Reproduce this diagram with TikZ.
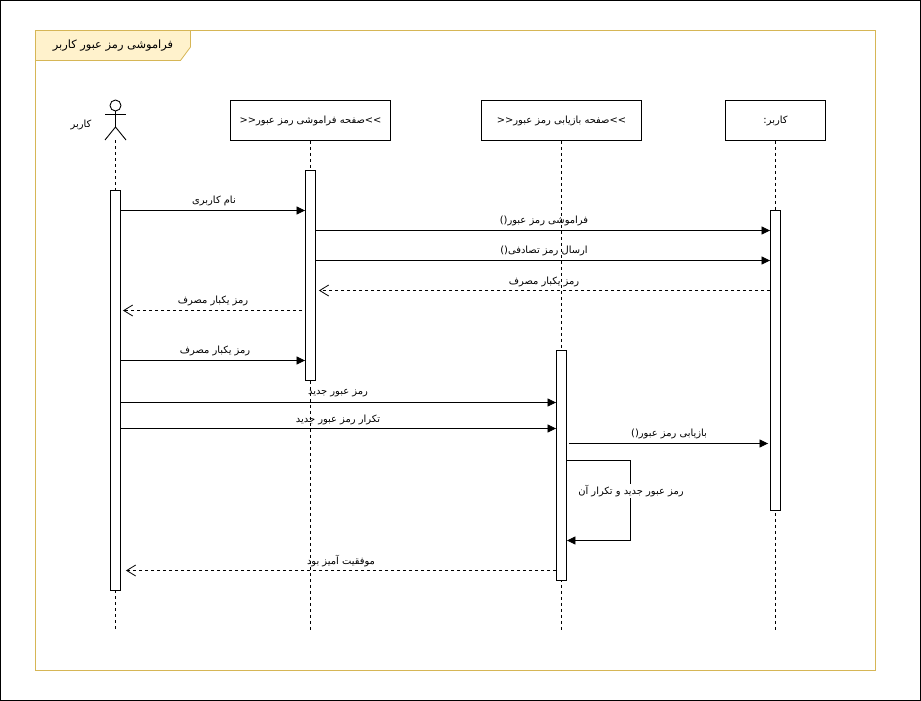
\documentclass[tikz,border=0pt]{standalone}
\usepackage{fontspec}
\setmainfont{DejaVu Sans}
\newfontfamily\arabicfont[Script=Arabic]{DejaVu Sans}
\TeXXeTstate=1
\usetikzlibrary{positioning, arrows.meta, calc}
\definecolor{framecol}{RGB}{214,182,86}
\definecolor{tabfill}{RGB}{255,242,204}
\newcommand{\fa}[1]{{\arabicfont\beginR #1\endR}}
\tikzset{
  headbox/.style={draw, line width=0.9pt, fill=white, minimum height=40pt, inner sep=0pt},
  actbar/.style={draw, line width=0.9pt, fill=white, minimum width=10pt, inner sep=0pt},
  lifeline/.style={line width=0.8pt, dash pattern=on 3pt off 3pt},
  syncmsg/.style={line width=0.8pt, -{Triangle[length=8.5pt,width=8pt]}},
  replymsg/.style={line width=0.8pt, dash pattern=on 3pt off 3pt, -{Straight Barb[length=9pt,width=11pt]}},
  msglabel/.style={font=\fontsize{9.9}{11}\selectfont, inner sep=0pt}
}
\begin{document}
\begin{tikzpicture}[x=1pt, y=-1pt, >=Stealth]
        \useasboundingbox (0,0) rectangle (921,701);
        % Outer border and frame
        \draw[line width=0.9pt] (0.5,0.5) rectangle (920.5,700.5);
        \draw[framecol, line width=0.8pt] (35.5,30.5) rectangle (875.5,670.5);
        \draw[framecol, line width=0.8pt, fill=tabfill] (35.5,30.5) -- (190.5,30.5) -- (190.5,47) -- (180.5,60.5) -- (35.5,60.5) -- cycle;
        \node[msglabel, font=\fontsize{11.4}{13}\selectfont] (frameTitle) at (113,45.5) {\fa{فراموشی رمز عبور کاربر}};

        % Heads
        \node[headbox, minimum width=160pt] (forgetHead) at (310.5,120.5) {};
        \node[msglabel] at (forgetHead) {\fa{\beginL>>\endL صفحه فراموشی رمز عبور\beginL<<\endL}};
        \node[headbox, minimum width=160pt] (recoverHead) at (561.5,120.5) {};
        \node[msglabel] at (recoverHead) {\fa{\beginL>>\endL صفحه بازیابی رمز عبور\beginL<<\endL}};
        \node[headbox, minimum width=100pt] (userHead) at (775.5,120.5) {};
        \node[msglabel] at (userHead) {\fa{کاربر:}};

        % Actor
        \node[circle, draw, line width=0.9pt, minimum size=11pt, inner sep=0pt] (actorHead) at (115.5,105.5) {};
        \coordinate (actorHip) at (115.5,127);
        \coordinate (actorFoot) at (115.5,140);
        \draw[line width=0.9pt] (actorHead.south) -- (actorHip);
        \draw[line width=0.9pt] ($(actorHead.south)+(-10.5,3)$) -- ($(actorHead.south)+(10.5,3)$);
        \draw[line width=0.9pt] ($(actorFoot)+(-10.5,0)$) -- (actorHip) -- ($(actorFoot)+(10.5,0)$);
        \node[msglabel] (actorLabel) at (81,125) {\fa{کاربر}};

        % Lifelines
        \coordinate (lifeEnd) at (0,630);
        \draw[lifeline] (actorFoot) -- (actorFoot |- lifeEnd);
        \draw[lifeline] (forgetHead.south) -- (forgetHead.south |- lifeEnd);
        \draw[lifeline] (recoverHead.south) -- (recoverHead.south |- lifeEnd);
        \draw[lifeline] (userHead.south) -- (userHead.south |- lifeEnd);

        % Activation bars
        \node[actbar, minimum height=400pt] (actorBar) at (115.5,390.5) {};
        \node[actbar, minimum height=210pt] (forgetBar) at (310.5,275.5) {};
        \node[actbar, minimum height=230pt] (recoverBar) at (561.5,465.5) {};
        \node[actbar, minimum height=300pt] (userBar) at (775.5,360.5) {};

        % Rows
        \foreach \rowname/\rowy in {a/210.5, b/230.5, c/260.5, d/290.5, e/310.5, f/360.5, g/402.5, h/428.5, i/443.5, j/460.5, k/540.5, l/570.5}
            \coordinate (row\rowname) at (0,\rowy);

        % Messages
        \draw[syncmsg] (actorBar.east |- rowa) -- (forgetBar.west |- rowa);
        \node[msglabel] at (214,201) {\fa{نام کاربری}};
        \draw[syncmsg] (forgetBar.east |- rowb) -- (userBar.west |- rowb);
        \node[msglabel] at (544,220.5) {\fa{فراموشی رمز عبور\beginL()\endL}};
        \draw[syncmsg] (forgetBar.east |- rowc) -- (userBar.west |- rowc);
        \node[msglabel] at (544,250.5) {\fa{ارسال رمز تصادفی\beginL()\endL}};
        \draw[replymsg] (userBar.west |- rowd) -- ($(forgetBar.east |- rowd)+(3,0)$);
        \node[msglabel] at (544,281.5) {\fa{رمز یکبار مصرف}};
        \draw[replymsg] ($(forgetBar.west |- rowe)+(-3,0)$) -- ($(actorBar.east |- rowe)+(2,0)$);
        \node[msglabel] at (213,300.5) {\fa{رمز یکبار مصرف}};
        \draw[syncmsg] (actorBar.east |- rowf) -- (forgetBar.west |- rowf);
        \node[msglabel] at (215,351) {\fa{رمز یکبار مصرف}};
        \draw[syncmsg] (actorBar.east |- rowg) -- (recoverBar.west |- rowg);
        \node[msglabel] at (338,393.5) {\fa{رمز عبور جدید}};
        \draw[syncmsg] (actorBar.east |- rowh) -- (recoverBar.west |- rowh);
        \node[msglabel] at (338,419.5) {\fa{تکرار رمز عبور جدید}};
        \draw[syncmsg] ($(recoverBar.east |- rowi)+(2,0)$) -- ($(userBar.west |- rowi)+(-2,0)$);
        \node[msglabel] at (669,433.5) {\fa{بازیابی رمز عبور\beginL()\endL}};
        % Self message
        \coordinate (selfBend) at (630.5,500);
        \draw[syncmsg] (recoverBar.east |- rowj) -| (selfBend) |- (recoverBar.east |- rowk);
        \node[msglabel, fill=white, inner ysep=1pt] (selfLabel) at (631,491) {\fa{رمز عبور جدید و تکرار آن}};
        \draw[replymsg] (recoverBar.west |- rowl) -- ($(actorBar.east |- rowl)+(5,0)$);
        \node[msglabel] at (341,561) {\fa{موفقیت آمیز بود}};
\end{tikzpicture}
\end{document}
